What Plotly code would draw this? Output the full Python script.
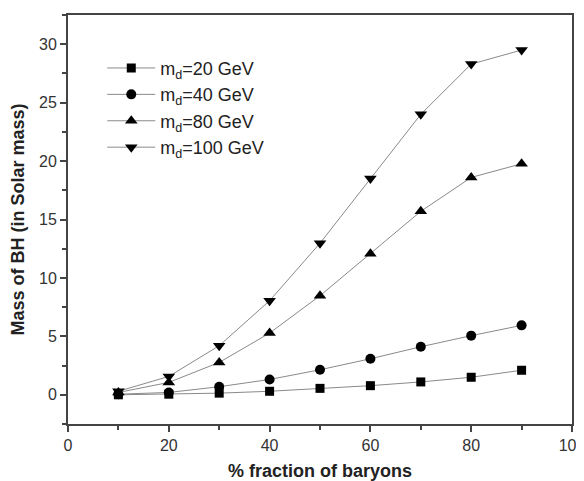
import plotly.graph_objects as go

x_frac = [10, 20, 30, 40, 50, 60, 70, 80, 90]
md20 = [0.0, 0.05, 0.14, 0.3, 0.55, 0.78, 1.1, 1.5, 2.1]
md40 = [0.05, 0.2, 0.69, 1.31, 2.14, 3.08, 4.11, 5.06, 5.94]
md80 = [0.2, 1.06, 2.77, 5.28, 8.48, 12.06, 15.7, 18.6, 19.77]
md100 = [0.3, 1.57, 4.2, 8.05, 12.97, 18.5, 24.0, 28.3, 29.5]

names = ["m<sub>d</sub>=20 GeV", "m<sub>d</sub>=40 GeV", "m<sub>d</sub>=80 GeV", "m<sub>d</sub>=100 GeV"]
symbols = ["square", "circle", "triangle-up", "triangle-down"]
sizes = [9, 10, 11, 11]
series = [md20, md40, md80, md100]

fig = go.Figure()
for nm, ys, sym, sz in zip(names, series, symbols, sizes):
    fig.add_trace(go.Scatter(
        x=x_frac, y=ys, name=nm, mode="lines+markers",
        line=dict(color="#8a8a8a", width=1),
        marker=dict(symbol=sym, size=sz, color="black"),
    ))

FONT = "Liberation Sans, Arial"
axis_common = dict(
    showgrid=False, zeroline=False, showline=True, linecolor="#444444", linewidth=2,
    mirror=True, ticks="outside", ticklen=6, tickwidth=1.5, tickcolor="#444444",
    tickfont=dict(family=FONT, size=16, color="#333333"),
    automargin=False, ticklabeloverflow="allow",
)

fig.update_xaxes(range=[0, 100], dtick=20,
                 minor=dict(dtick=10, ticks="outside", ticklen=4, tickcolor="#444444", tickwidth=1.5),
                 title=dict(text="<b>% fraction of baryons</b>", font=dict(family=FONT, size=18, color="#222222"), standoff=20),
                 **axis_common)
fig.update_yaxes(range=[-2.5, 32.5], tickvals=[0, 5, 10, 15, 20, 25, 30],
                 minor=dict(tickvals=[-2.5, 2.5, 7.5, 12.5, 17.5, 22.5, 27.5, 32.5], ticks="outside", ticklen=4, tickcolor="#444444", tickwidth=1.5),
                 title=dict(text="<b>Mass of BH (in Solar mass)</b>", font=dict(family=FONT, size=18, color="#222222"), standoff=10),
                 **axis_common)

fig.update_layout(
    width=576, height=473,
    margin=dict(l=60, r=12, t=7, b=57),
    plot_bgcolor="white", paper_bgcolor="white",
    showlegend=True,
    legend=dict(x=0.068, y=0.915, xanchor="left", yanchor="top",
                bgcolor="rgba(0,0,0,0)", itemwidth=48,
                font=dict(family=FONT, size=18, color="#222222"),
                tracegroupgap=0),
)

fig.write_html("out.html")
